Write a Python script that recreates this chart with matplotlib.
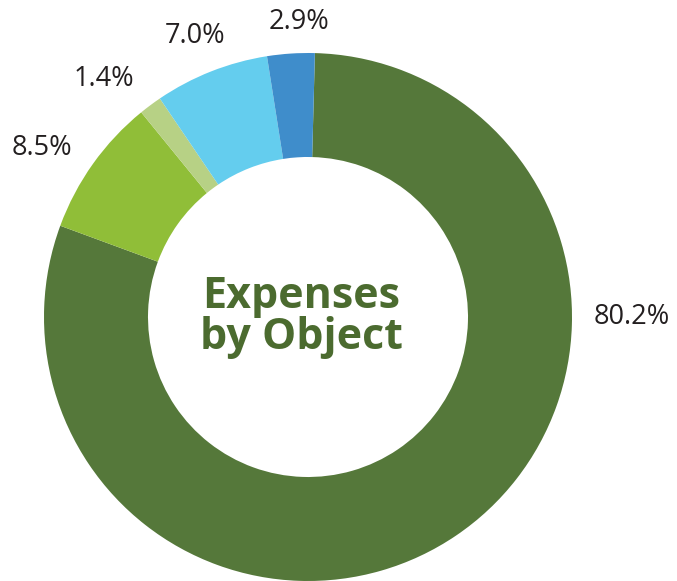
import matplotlib
matplotlib.use("Agg")
import matplotlib.pyplot as plt

# Data
categories = ["Object A", "Object B", "Object C", "Object D", "Object E"]
values = [80.2, 8.5, 1.4, 7.0, 2.9]
labels = ["80.2%", "8.5%", "1.4%", "7.0%", "2.9%"]
colors = ["#55783A", "#90BE38", "#B7D185", "#64CDEE", "#3F8DCB"]
title = "Expenses\nby Object"

# label placement (pixel-like units relative to pie center)
label_pos = [(324, 0), (-266, 169), (-204, 238), (-113, 281), (-9, 295)]

W, H = 677, 581
fig = plt.figure(figsize=(W / 100, H / 100), dpi=100)
ax = fig.add_axes([0, 0, 1, 1])

cx, cy = 308, 264  # center in px from left / bottom
R = 264
inner = 160

ax.pie(values, colors=colors, startangle=88.5, counterclock=False,
       radius=R, center=(0, 0),
       wedgeprops=dict(width=R - inner, linewidth=0, antialiased=True))

ax.set_xlim(-cx, W - cx)
ax.set_ylim(-cy, H - cy)
ax.set_aspect("equal", adjustable="box")
ax.axis("off")

for lab, (x, y) in zip(labels, label_pos):
    ax.text(x, y, lab, ha="center", va="center", fontsize=19.5,
            family=["Open Sans", "DejaVu Sans"], color="#231F20")

ax.text(-7, 0, title, ha="center", va="center", fontsize=31,
        fontweight="bold", family=["Open Sans", "DejaVu Sans"],
        color="#4B6B2F", linespacing=0.95)

fig.savefig("out.png", dpi=100)
